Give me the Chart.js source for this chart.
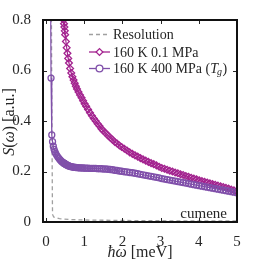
<!DOCTYPE html>
<html>
<head>
<meta charset="utf-8">
<script src="https://cdn.jsdelivr.net/npm/chart.js@4"></script>
<style>
  html, body { margin: 0; padding: 0; background: #fff; }
  #wrap { width: 262px; height: 262px; }
</style>
</head>
<body>
<div id="wrap"><canvas id="sqw" width="262" height="262"></canvas></div>
<script>
'use strict';

// resolution function
const resE = [0.12, 0.15, 0.165, 0.17, 0.2, 0.35, 0.6, 1, 2, 3, 4, 5];
const resS = [1.5, 0.5, 0.1, 0.03, 0.02, 0.013, 0.01, 0.008, 0.006, 0.005, 0.004, 0.004];

// shared energy grid (meV)
const energy = [0.46, 0.47, 0.48, 0.49, 0.50, 0.52, 0.54, 0.56, 0.58, 0.60, 0.63, 0.66, 0.69, 0.72, 0.75,
  0.78, 0.81, 0.85, 0.89, 0.93, 0.97, 1.01, 1.05, 1.10, 1.15, 1.20, 1.25, 1.30, 1.35, 1.40, 1.45, 1.50,
  1.56, 1.62, 1.68, 1.74, 1.80, 1.86, 1.92, 1.98, 2.05, 2.12, 2.19, 2.26, 2.33, 2.40, 2.47, 2.54, 2.61,
  2.68, 2.75, 2.82, 2.89, 2.96, 3.03, 3.10, 3.17, 3.24, 3.31, 3.38, 3.45, 3.52, 3.59, 3.66, 3.73, 3.80,
  3.87, 3.94, 4.01, 4.08, 4.15, 4.22, 4.29, 4.36, 4.43, 4.50, 4.57, 4.64, 4.71, 4.78, 4.85, 4.92, 4.99];

// 160 K, 0.1 MPa
const sLowP = [0.800, 0.785, 0.772, 0.757, 0.742, 0.715, 0.690, 0.668, 0.648, 0.630, 0.608, 0.590, 0.575,
  0.562, 0.550, 0.538, 0.527, 0.515, 0.503, 0.492, 0.480, 0.468, 0.458, 0.446, 0.433, 0.421, 0.410, 0.400,
  0.389, 0.380, 0.369, 0.361, 0.352, 0.343, 0.334, 0.326, 0.317, 0.311, 0.303, 0.297, 0.290, 0.283, 0.276,
  0.270, 0.264, 0.259, 0.253, 0.248, 0.243, 0.238, 0.233, 0.229, 0.224, 0.219, 0.214, 0.211, 0.207, 0.203,
  0.200, 0.196, 0.193, 0.189, 0.186, 0.182, 0.179, 0.175, 0.172, 0.169, 0.165, 0.162, 0.159, 0.156, 0.153,
  0.150, 0.147, 0.144, 0.141, 0.138, 0.135, 0.132, 0.128, 0.125, 0.122];

// 160 K, 400 MPa: low-energy points, then the shared grid
const energyHead = [0.11, 0.13, 0.15, 0.17, 0.19, 0.21, 0.23, 0.25, 0.28, 0.31, 0.34, 0.37, 0.40, 0.43];
const sHighPHead = [1.20, 0.570, 0.345, 0.318, 0.300, 0.288, 0.279, 0.272, 0.264, 0.257, 0.251, 0.246, 0.241, 0.237];
const sHighP = [0.234, 0.233, 0.232, 0.231, 0.230, 0.228, 0.226, 0.225, 0.223, 0.222, 0.220, 0.219, 0.218,
  0.217, 0.216, 0.216, 0.215, 0.215, 0.214, 0.214, 0.214, 0.213, 0.213, 0.213, 0.212, 0.212, 0.212, 0.212,
  0.211, 0.211, 0.211, 0.210, 0.210, 0.209, 0.208, 0.207, 0.205, 0.204, 0.202, 0.201, 0.199, 0.198, 0.196,
  0.195, 0.193, 0.191, 0.189, 0.187, 0.185, 0.183, 0.181, 0.179, 0.177, 0.175, 0.172, 0.170, 0.168, 0.166,
  0.164, 0.162, 0.160, 0.158, 0.156, 0.154, 0.152, 0.150, 0.148, 0.146, 0.144, 0.142, 0.140, 0.138, 0.136,
  0.134, 0.132, 0.130, 0.128, 0.126, 0.124, 0.122, 0.120, 0.118, 0.116];

const xTicks = [0, 1, 2, 3, 4, 5];
const yTicks = [0, 0.2, 0.4, 0.6, 0.8];
const seriesNames = ['Resolution', '160 K 0.1 MPa', '160 K 400 MPa'];

const SERIF = '"Liberation Serif", "DejaVu Serif", serif';
const INK = '#262626';
const MAGENTA = '#a3238f';
const PURPLE = '#8050aa';
const GREY = '#a0a0a0';

function pairs(xs, ys) {
  return xs.map((x, i) => ({ x: x, y: ys[i] }));
}

function drawMarker(ctx, kind, x, y, r, color) {
  ctx.save();
  ctx.strokeStyle = color;
  ctx.fillStyle = '#fff';
  ctx.lineWidth = 1.3;
  ctx.beginPath();
  if (kind === 'rectRot') {
    ctx.moveTo(x, y - r);
    ctx.lineTo(x + r, y);
    ctx.lineTo(x, y + r);
    ctx.lineTo(x - r, y);
    ctx.closePath();
  } else {
    ctx.arc(x, y, r, 0, Math.PI * 2);
  }
  ctx.fill();
  ctx.stroke();
  ctx.restore();
}

const frame = {
  id: 'frame',
  afterDatasetsDraw(chart) {
    const { ctx, chartArea: a, scales } = chart;
    ctx.save();
    // inward ticks on all four sides
    ctx.strokeStyle = INK;
    ctx.lineWidth = 1;
    ctx.beginPath();
    xTicks.forEach(v => {
      const px = Math.round(scales.x.getPixelForValue(v)) + 0.5;
      ctx.moveTo(px, a.bottom); ctx.lineTo(px, a.bottom - 4);
      ctx.moveTo(px, a.top); ctx.lineTo(px, a.top + 4);
    });
    yTicks.forEach(v => {
      const py = Math.round(scales.y.getPixelForValue(v)) + 0.5;
      ctx.moveTo(a.left, py); ctx.lineTo(a.left + 4, py);
      ctx.moveTo(a.right, py); ctx.lineTo(a.right - 4, py);
    });
    ctx.stroke();
    // box
    ctx.lineWidth = 2;
    ctx.strokeStyle = '#111';
    ctx.strokeRect(a.left, a.top, a.right - a.left, a.bottom - a.top);

    // legend
    const ds = chart.data.datasets;
    const lx0 = 89, lx1 = 110, tx = 113;
    const rows = [34.5, 52, 68.5];
    ctx.textBaseline = 'middle';
    ctx.fillStyle = INK;
    rows.forEach((ry, i) => {
      const d = ds[i];
      ctx.save();
      ctx.strokeStyle = d.borderColor;
      ctx.lineWidth = 1.3;
      ctx.setLineDash(d.borderDash || []);
      ctx.beginPath();
      ctx.moveTo(lx0, ry); ctx.lineTo(lx1, ry);
      ctx.stroke();
      ctx.restore();
      if (d.pointRadius > 0) drawMarker(ctx, d.pointStyle, (lx0 + lx1) / 2, ry, 3.4, d.borderColor);
    });
    ctx.font = '14px ' + SERIF;
    ctx.fillText(seriesNames[0], tx, rows[0] + 1);
    ctx.fillText(seriesNames[1], tx, rows[1] + 1);
    // third entry carries the (T_g) suffix
    const head = seriesNames[2] + ' (';
    ctx.fillText(head, tx, rows[2] + 1);
    const w = ctx.measureText(head).width;
    ctx.font = 'italic 14px ' + SERIF;
    ctx.fillText('T', tx + w, rows[2] + 1);
    const wT = ctx.measureText('T').width;
    ctx.font = 'italic 10px ' + SERIF;
    ctx.fillText('g', tx + w + wT - 1, rows[2] + 4);
    const wg = ctx.measureText('g').width;
    ctx.font = '14px ' + SERIF;
    ctx.fillText(')', tx + w + wT + wg - 0.5, rows[2] + 1);

    // sample label
    ctx.textAlign = 'right';
    ctx.font = '15px ' + SERIF;
    ctx.fillText('cumene', a.right - 10, a.bottom - 8);

    // x title: ħω [meV]
    ctx.textAlign = 'left';
    const xt1 = 'ħω';
    const xt2 = ' [meV]';
    ctx.font = 'italic 16px ' + SERIF;
    const w1 = ctx.measureText(xt1).width;
    ctx.font = '16px ' + SERIF;
    const w2 = ctx.measureText(xt2).width;
    const sx = (a.left + a.right) / 2 - (w1 + w2) / 2;
    ctx.font = 'italic 16px ' + SERIF;
    ctx.fillText(xt1, sx, 253);
    ctx.font = '16px ' + SERIF;
    ctx.fillText(xt2, sx + w1, 253);

    // y title: S(ω) [a.u.]
    ctx.translate(10, (a.top + a.bottom) / 2 + 1);
    ctx.rotate(-Math.PI / 2);
    const parts = [['S', true], ['(', false], ['ω', true], [') [a.u.]', false]];
    let total = 0;
    parts.forEach(p => {
      ctx.font = (p[1] ? 'italic ' : '') + '16px ' + SERIF;
      total += ctx.measureText(p[0]).width;
    });
    let cx = -total / 2;
    parts.forEach(p => {
      ctx.font = (p[1] ? 'italic ' : '') + '16px ' + SERIF;
      ctx.fillText(p[0], cx, 0);
      cx += ctx.measureText(p[0]).width;
    });
    ctx.restore();
  }
};

new Chart(document.getElementById('sqw'), {
  type: 'line',
  data: {
    datasets: [{
      label: seriesNames[0],
      data: pairs(resE, resS),
      borderColor: GREY,
      borderWidth: 1.3,
      borderDash: [4, 3],
      pointRadius: 0,
      order: 2
    }, {
      label: seriesNames[1],
      data: pairs(energy, sLowP),
      borderColor: MAGENTA,
      backgroundColor: 'rgba(255,255,255,0)',
      borderWidth: 1.2,
      pointStyle: 'rectRot',
      pointRadius: 3.4,
      pointBorderWidth: 1.3,
      order: 1
    }, {
      label: seriesNames[2],
      data: pairs(energyHead.concat(energy), sHighPHead.concat(sHighP)),
      borderColor: PURPLE,
      backgroundColor: 'rgba(255,255,255,0)',
      borderWidth: 1.2,
      pointStyle: 'circle',
      pointRadius: 3,
      pointBorderWidth: 1.3,
      order: 0
    }]
  },
  options: {
    responsive: false,
    animation: false,
    devicePixelRatio: 1,
    layout: { padding: { top: 20, right: 25, left: 0, bottom: 0 } },
    plugins: { legend: { display: false }, tooltip: { enabled: false } },
    elements: { line: { tension: 0 } },
    scales: {
      x: {
        type: 'linear',
        min: -0.08,
        max: 5,
        afterBuildTicks: s => { s.ticks = xTicks.map(v => ({ value: v })); },
        afterFit: s => { s.height = 40; },
        grid: { display: false },
        border: { display: false },
        ticks: {
          padding: 3,
          color: INK,
          font: { family: SERIF, size: 15 },
          callback: v => String(v)
        }
      },
      y: {
        min: 0,
        max: 0.8,
        afterBuildTicks: s => { s.ticks = yTicks.map(v => ({ value: v })); },
        afterFit: s => { s.width = 43; },
        grid: { display: false },
        border: { display: false },
        ticks: {
          padding: 4,
          color: INK,
          font: { family: SERIF, size: 15 },
          callback: v => String(+v.toFixed(1))
        }
      }
    }
  },
  plugins: [frame]
});
</script>
</body>
</html>
